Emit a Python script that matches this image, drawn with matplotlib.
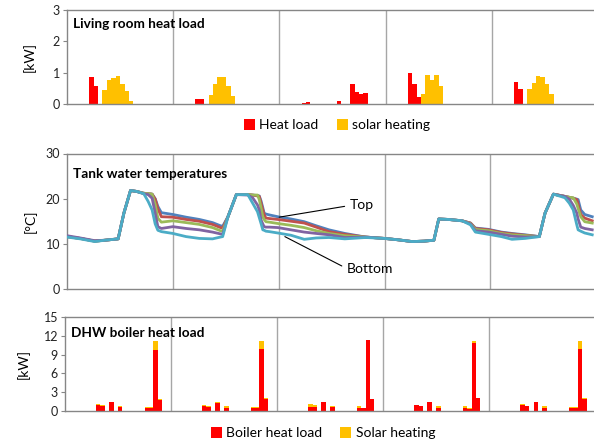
import matplotlib
matplotlib.use('Agg')
import matplotlib.pyplot as plt

plt.rcParams['font.family'] = ['Lato', 'DejaVu Sans']

# ---- Living room heat load (kW), hour of the 5-day period -> value
heat_hours = [5, 6, 29, 30, 53, 54, 61, 64, 65, 66, 67, 77, 78, 79, 101, 102]
heat_kw = [0.87, 0.57, 0.15, 0.15, 0.03, 0.05, 0.10, 0.65, 0.39, 0.31, 0.36,
           0.98, 0.65, 0.21, 0.69, 0.48]
solar_hours = [8, 9, 10, 11, 12, 13, 14,
               32, 33, 34, 35, 36, 37, 38,
               80, 81, 82, 83, 84,
               104, 105, 106, 107, 108, 109]
solar_kw = [0.44, 0.77, 0.84, 0.90, 0.65, 0.42, 0.10,
            0.30, 0.65, 0.87, 0.87, 0.57, 0.27, -0.02,
            0.33, 0.93, 0.78, 0.93, 0.57,
            0.48, 0.68, 0.89, 0.87, 0.65, 0.33]

# ---- Tank water temperatures (deg C), five layers top -> bottom
t_hours = [0, 3, 6.3, 8.6, 11.6, 12.9, 14.4, 15.8, 17.4, 18.4, 19.3, 20.0, 20.6, 21.4,
           24, 27, 30, 33, 34.8, 35.3, 36.5, 38.4, 41.0,
           42.1, 43.2, 43.6, 44.0, 44.4, 44.7, 45.1, 45.9, 47.8,
           50.8, 53.8, 56.5, 59.4, 63.0, 67.7,
           72, 75, 78.3, 81, 83.2, 84.3, 86.5, 89.6, 91.5, 92.6, 95.6,
           98.5, 100.9, 103.9, 107.1, 108.4, 110.3, 112.9,
           113.9, 114.8, 115.6, 115.9, 116.5, 117.4, 119.1]
t_top = [11.6, 11.2, 10.6, 10.8, 11.1, 16.8, 21.8, 21.6, 21.2, 21.1, 21.0, 20.0, 18.3, 16.9,
         16.5, 15.9, 15.4, 14.7, 14.0, 13.9, 16.0, 20.9, 20.9,
         20.8, 20.7, 20.6, 19.5, 18.0, 16.8, 16.6, 16.4, 16.0,
         15.5, 14.9, 14.0, 13.1, 12.3, 11.5,
         11.2, 10.9, 10.5, 10.6, 10.8, 15.5, 15.4, 15.1, 14.6, 13.5, 13.2,
         12.6, 12.3, 12.0, 11.6, 16.8, 21.0, 20.5,
         20.3, 20.1, 19.9, 19.8, 17.5, 16.5, 16.0]
t_2 = [11.6, 11.2, 10.6, 10.8, 11.1, 16.8, 21.8, 21.6, 21.2, 21.1, 21.0, 19.9, 17.8, 16.0,
       15.9, 15.4, 15.0, 14.3, 13.6, 13.5, 16.0, 20.9, 20.9,
       20.8, 20.6, 20.5, 19.0, 17.5, 16.5, 15.7, 15.6, 15.4,
       15.0, 14.6, 13.7, 12.7, 12.1, 11.5,
       11.2, 10.9, 10.5, 10.6, 10.8, 15.5, 15.4, 15.1, 14.6, 13.4, 13.1,
       12.5, 12.2, 11.9, 11.6, 16.8, 21.0, 20.5,
       20.3, 20.1, 19.8, 18.8, 16.5, 15.7, 15.1]
t_3 = [11.6, 11.2, 10.6, 10.8, 11.1, 16.8, 21.8, 21.6, 21.2, 21.1, 21.0, 18.7, 15.7, 14.8,
       15.1, 14.7, 14.3, 13.6, 12.9, 12.8, 16.0, 20.9, 20.9,
       20.8, 20.8, 19.8, 18.0, 16.0, 15.4, 14.9, 14.8, 14.5,
       14.1, 13.6, 12.9, 12.3, 11.8, 11.5,
       11.2, 10.9, 10.5, 10.6, 10.8, 15.5, 15.4, 15.1, 14.5, 13.2, 12.9,
       12.3, 12.0, 11.8, 11.6, 16.8, 21.0, 20.5,
       20.3, 20.2, 18.8, 17.8, 16.0, 14.9, 14.6]
t_4 = [11.8, 11.3, 10.7, 10.8, 11.1, 16.8, 21.8, 21.6, 21.1, 20.9, 20.1, 16.8, 13.8, 13.4,
       13.8, 13.4, 13.1, 12.6, 12.2, 12.1, 16.0, 20.9, 20.8,
       20.2, 18.6, 17.5, 15.3, 14.4, 13.8, 13.7, 13.7, 13.6,
       13.1, 12.6, 12.3, 12.0, 11.4, 11.5,
       11.2, 10.9, 10.5, 10.6, 10.8, 15.5, 15.4, 15.1, 14.4, 12.9, 12.6,
       12.1, 11.7, 11.5, 11.6, 16.8, 21.0, 20.5,
       19.9, 18.5, 16.8, 15.5, 13.7, 13.4, 13.1]
t_bottom = [11.5, 11.1, 10.5, 10.8, 11.1, 16.8, 21.8, 21.6, 21.1, 19.4, 17.5, 14.4, 13.0, 12.7,
            12.3, 11.6, 11.2, 11.1, 11.5, 11.6, 16.0, 20.9, 20.9,
            19.0, 17.1, 15.8, 14.5, 13.1, 13.0, 12.8, 12.7, 12.4,
            11.9, 11.0, 11.3, 11.4, 11.1, 11.4,
            11.2, 10.9, 10.5, 10.6, 10.8, 15.5, 15.4, 15.1, 14.2, 12.6, 12.1,
            11.6, 11.0, 11.2, 11.6, 16.8, 21.0, 20.2,
            19.0, 17.5, 14.2, 13.1, 12.8, 12.4, 12.0]

# ---- DHW boiler heat load (kW)
dhw_hours = [7, 8, 10, 12, 18, 19, 20, 21,
             31, 32, 34, 36, 42, 43, 44, 45,
             55, 56, 58, 60, 66, 67, 68, 69,
             79, 80, 82, 84, 90, 91, 92, 93,
             103, 104, 106, 108, 114, 115, 116, 117]
boiler_kw = [0.90, 0.75, 1.45, 0.55, 0.38, 0.38, 9.75, 1.72,
             0.75, 0.55, 1.24, 0.48, 0.43, 0.43, 9.85, 1.88,
             0.65, 0.65, 1.35, 0.55, 0.48, 0.40, 11.35, 1.88,
             0.90, 0.75, 1.45, 0.48, 0.45, 0.35, 10.8, 1.98,
             0.90, 0.75, 1.45, 0.48, 0.38, 0.38, 9.9, 1.88]
dhw_solar_kw = [0.17, 0.15, 0.0, 0.20, 0.26, 0.26, 1.45, 0.16,
                0.20, 0.20, 0.11, 0.27, 0.22, 0.22, 1.35, 0.11,
                0.37, 0.20, 0.10, 0.15, 0.27, 0.10, 0.0, 0.0,
                0.05, 0.0, 0.0, 0.27, 0.25, 0.10, 0.40, 0.12,
                0.10, 0.05, 0.0, 0.27, 0.27, 0.27, 1.30, 0.12]

day_edges = [24, 48, 72, 96]

RED = '#FF0000'
YELLOW = '#FFC000'
GRAY = '#868686'
layer_colors = ['#4F81BD', '#C0504D', '#9BBB59', '#8064A2', '#4BACC6']

W, H = 594, 443
fig = plt.figure(figsize=(W / 100, H / 100), dpi=100)


def make_axes(left, top, bottom, px_per_hour):
    ax = fig.add_axes([left / W, 1 - bottom / H, (W - left) / W, (bottom - top) / H])
    ax.set_xlim(0, (W - left) / px_per_hour)
    for d in day_edges:
        ax.axvline(d, color='#A6A6A6', lw=1.0, zorder=0)
    ax.spines['right'].set_visible(False)
    for s in ['left', 'top', 'bottom']:
        ax.spines[s].set_color(GRAY)
        ax.spines[s].set_linewidth(1.0)
    ax.set_xticks([])
    ax.tick_params(axis='y', colors=GRAY, length=3, labelsize=9, labelcolor='#222222', pad=2)
    return ax


# Living room heat load
ax1 = make_axes(67, 10, 104, 4.425)
ax1.set_ylim(0, 3)
ax1.set_yticks([0, 1, 2, 3])
b1 = ax1.bar(heat_hours, heat_kw, width=1, align='edge', color=RED, label='Heat load')
b2 = ax1.bar(solar_hours, solar_kw, width=1, align='edge', color=YELLOW, label='solar heating')
ax1.text(0.012, 0.85, 'Living room heat load', transform=ax1.transAxes,
         fontsize=9.8, fontweight='bold', va='center')
ax1.set_ylabel('[kW]', fontsize=10, labelpad=12)
fig.legend(handles=[b1, b2], loc='center', bbox_to_anchor=(337 / W, 1 - 125 / H), ncol=2,
           frameon=False, fontsize=10, handlelength=0.8, handleheight=0.8,
           handletextpad=0.3, columnspacing=1.3)

# Tank water temperatures
ax2 = make_axes(67, 153.5, 289, 4.41)
ax2.set_ylim(0, 30)
ax2.set_yticks([0, 10, 20, 30])
for series, c in zip([t_top, t_2, t_3, t_4, t_bottom], layer_colors):
    ax2.plot(t_hours, series, color=c, lw=2.0, solid_joinstyle='round', zorder=3)
ax2.text(0.012, 0.85, 'Tank water temperatures', transform=ax2.transAxes,
         fontsize=9.8, fontweight='bold', va='center')
ax2.set_ylabel('[°C]', fontsize=10, labelpad=6)
ax2.annotate('Top', xy=(48.1, 15.9), xytext=(64.2, 18.5), fontsize=10, va='center', ha='left',
             arrowprops=dict(arrowstyle='-', color='black', lw=0.8, shrinkA=2, shrinkB=0,
                             relpos=(0, 0.5)), zorder=5)
ax2.annotate('Bottom', xy=(49.4, 11.6), xytext=(63.5, 4.5), fontsize=10, va='center', ha='left',
             arrowprops=dict(arrowstyle='-', color='black', lw=0.8, shrinkA=2, shrinkB=0,
                             relpos=(0, 0.5)), zorder=5)

# DHW boiler heat load
ax3 = make_axes(65, 317.3, 410.7, 4.42)
ax3.set_ylim(0, 15)
ax3.set_yticks([0, 3, 6, 9, 12, 15])
b3 = ax3.bar(dhw_hours, boiler_kw, width=1, align='edge', color=RED, label='Boiler heat load')
b4 = ax3.bar(dhw_hours, dhw_solar_kw, bottom=boiler_kw, width=1, align='edge', color=YELLOW,
             label='Solar heating')
ax3.text(0.012, 0.83, 'DHW boiler heat load', transform=ax3.transAxes,
         fontsize=9.8, fontweight='bold', va='center')
ax3.set_ylabel('[kW]', fontsize=10, labelpad=10)
fig.legend(handles=[b3, b4], loc='center', bbox_to_anchor=(323 / W, 1 - 433 / H), ncol=2,
           frameon=False, fontsize=10, handlelength=0.8, handleheight=0.8,
           handletextpad=0.3, columnspacing=1.3)

fig.savefig('out.png', dpi=100)
